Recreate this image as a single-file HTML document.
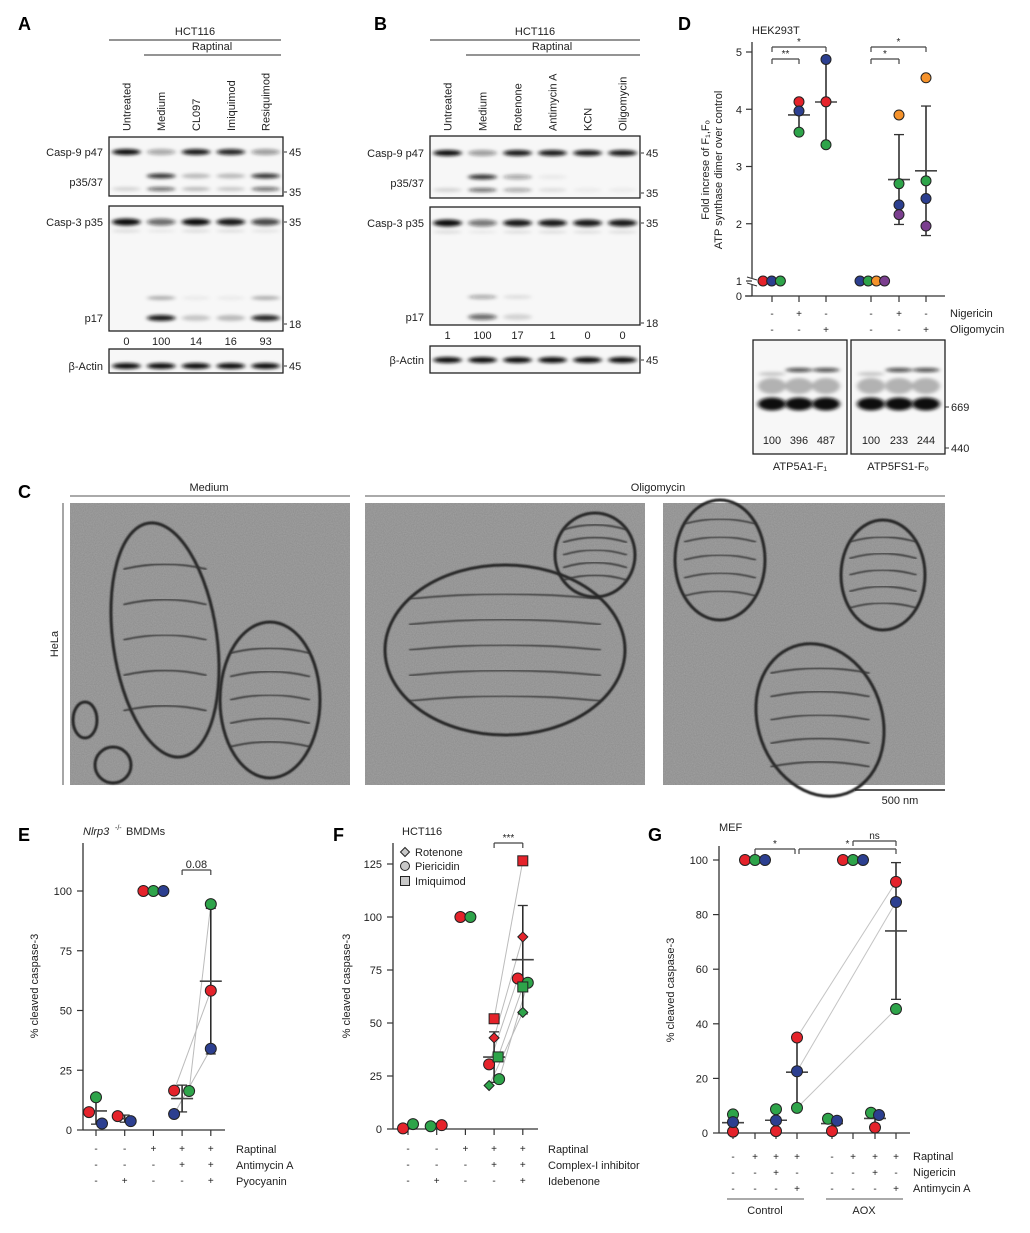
<!DOCTYPE html>
<html><head><meta charset="utf-8"><title>Figure</title>
<style>
html,body{margin:0;padding:0;background:#fff;}
svg{display:block;font-family:"Liberation Sans",Arial,sans-serif;}
</style></head>
<body>
<svg id="fig" xmlns="http://www.w3.org/2000/svg" width="1030" height="1233" viewBox="0 0 1030 1233">
<defs>
<filter id="blur" x="-20%" y="-100%" width="140%" height="300%"><feGaussianBlur stdDeviation="2.2 1.6"/></filter>
<filter id="noise" x="0" y="0" width="100%" height="100%">
<feTurbulence type="fractalNoise" baseFrequency="0.9" numOctaves="2" seed="3"/>
<feColorMatrix type="matrix" values="0 0 0 0 0.35  0 0 0 0 0.35  0 0 0 0 0.35  0 0 0 -1.4 1.2"/>
</filter>
<filter id="soft"><feGaussianBlur stdDeviation="0.8"/></filter>
</defs>
</svg>
<script>
// ---------------- DATA ----------------
const aLanes=["Untreated","Medium","CL097","Imiquimod","Resiquimod"];
const aCasp9=[1.0,0.35,0.95,0.9,0.4];
const aP37=[0,0.85,0.25,0.25,0.85];
const aP35=[0.15,0.6,0.25,0.2,0.6];
const aCasp3=[1.0,0.6,1.0,0.95,0.75];
const aP17up=[0,0.3,0.05,0.05,0.3];
const aP17=[0,0.95,0.2,0.25,0.9];
const aQuant=["0","100","14","16","93"];
const aActin=[1,1,1,1,1];
const bLanes=["Untreated","Medium","Rotenone","Antimycin A","KCN","Oligomycin"];
const bCasp9=[1.0,0.4,0.95,0.95,0.95,0.95];
const bP37=[0,0.85,0.35,0.05,0,0];
const bP35=[0.15,0.6,0.35,0.1,0.05,0.05];
const bCasp3=[1.0,0.55,0.95,0.95,0.95,0.95];
const bP17up=[0,0.35,0.1,0,0,0];
const bP17=[0,0.6,0.15,0,0,0];
const bQuant=["1","100","17","1","0","0"];
const bActin=[1,1,1,1,1,1];
const dTicks=[0,1,2,3,4,5];
const dNigericin=["-","+","-","-","+","-"];
const dOligomycin=["-","-","+","-","-","+"];
const dRed=[1,4.13,4.13,null,null,null];
const dBlue=[1,3.97,4.87,1,2.33,2.44];
const dGreen=[1,3.6,3.38,1,2.7,2.75];
const dOrange=[null,null,null,1,3.9,4.55];
const dPurple=[null,null,null,1,2.16,1.96];
const dBlotQuant=["100","396","487","100","233","244"];
const eTicks=[0,25,50,75,100];
const eRaptinal=["-","-","+","+","+"];
const eAntimycin=["-","-","-","+","+"];
const ePyocyanin=["-","+","-","-","+"];
const eRed=[7.5,5.8,100,16.5,58.3];
const eGreen=[13.7,null,100,16.3,94.5];
const eBlue=[2.7,3.7,100,6.7,34];
const fTicks=[0,25,50,75,100,125];
const fRaptinal=["-","-","+","+","+"];
const fComplexI=["-","-","-","+","+"];
const fIdebenone=["-","+","-","-","+"];
const fRedCircle=[0.3,1.8,100,30.5,71];
const fGreenCircle=[2.3,1.3,100,23.5,69];
const fRedSquare=[null,null,null,52,126.5];
const fGreenSquare=[null,null,null,34,67];
const fRedDiamond=[null,null,null,43,90.6];
const fGreenDiamond=[null,null,null,20.5,55];
const gTicks=[0,20,40,60,80,100];
const gRaptinal=["-","+","+","+","-","+","+","+"];
const gNigericin=["-","-","+","-","-","-","+","-"];
const gAntimycin=["-","-","-","+","-","-","-","+"];
const gRed=[0.5,100,0.7,35,0.7,100,2,92];
const gGreen=[6.8,100,8.7,9.2,5.2,100,7.4,45.4];
const gBlue=[4,100,4.6,22.6,4.5,100,6.6,84.6];

// ---------------- HELPERS ----------------
const NS="http://www.w3.org/2000/svg";
const svg=document.getElementById('fig');
function add(p,tag,at){const e=document.createElementNS(NS,tag);for(const k in at)e.setAttribute(k,at[k]);p.appendChild(e);return e;}
function grp(name){const g=add(svg,'g',{});


return g;}
function txt(p,x,y,s,opt){opt=opt||{};const t=add(p,'text',{x:x,y:y,'font-size':opt.size||11,'text-anchor':opt.anchor||'start',fill:opt.fill||'#222'});
if(opt.weight)t.setAttribute('font-weight',opt.weight);
if(opt.italic)t.setAttribute('font-style','italic');
if(opt.rot!==undefined)t.setAttribute('transform','rotate('+opt.rot+' '+x+' '+y+')');
t.textContent=s;


return t;}
function line(p,x1,y1,x2,y2,c,w,name){const l=add(p,'line',{x1:x1,y1:y1,x2:x2,y2:y2,stroke:c||'#333','stroke-width':w||1.2});


return l;}
const COL={red:'#e5232b',green:'#2ea44a',blue:'#2c3f90',orange:'#f5922b',purple:'#7b3f8f'};
function marker(p,shape,x,y,c,r,name){r=r||5.5;let m;
if(shape==='circle')m=add(p,'circle',{cx:x,cy:y,r:r});
else if(shape==='square')m=add(p,'rect',{x:x-r,y:y-r,width:2*r,height:2*r});
else m=add(p,'polygon',{points:(x)+','+(y-r)+' '+(x+r)+','+y+' '+x+','+(y+r)+' '+(x-r)+','+y});
m.setAttribute('fill',c);m.setAttribute('stroke','#222');m.setAttribute('stroke-width','1');


return m;}
function stats(vals){const v=vals.filter(a=>a!==null&&a!==undefined);const m=v.reduce((a,b)=>a+b,0)/v.length;const sd=Math.sqrt(v.reduce((a,b)=>a+(b-m)*(b-m),0)/(v.length-1));return {m:m,sd:sd};}
function errbar(p,x,y,mean,sd,name){const ym=y(mean),yl=y(mean-sd),yh=y(mean+sd);
line(p,x,yl,x,yh,'#222',1.5,name+'-whisker');
line(p,x-5,yl,x+5,yl,'#333',1.3,name+'-cap-low');
line(p,x-5,yh,x+5,yh,'#333',1.3,name+'-cap-high');
line(p,x-11,ym,x+11,ym,'#444',1.6,name+'-mean');}
function bracket(p,x1,x2,y,label,name){const g=add(p,'g',{});


line(g,x1,y,x2,y,'#444',1.2,'bracket-bar');line(g,x1,y,x1,y+5,'#444',1.2,'bracket-tick');line(g,x2,y,x2,y+5,'#444',1.2,'bracket-tick');
txt(g,(x1+x2)/2,y-2,label,{size:label.length>2&&label[0]!=='*'?11:10,anchor:'middle',name:'significance-label'});}
function panelLetter(l,x,y){txt(svg,x,y,l,{size:18,weight:'bold',fill:'#000',name:'panel-letter-'+l.toLowerCase()});}

// ---------------- BLOTS ----------------
function band(p,x,y,w,h,int,name){if(int<=0)return;const e=add(p,'ellipse',{cx:x,cy:y,rx:w/2,ry:h/2,fill:'#111','fill-opacity':Math.min(1,int),filter:'url(#blur)'});

}
function blotBox(p,x,y,w,h,name){const r=add(p,'rect',{x:x,y:y,width:w,height:h,fill:'#f7f7f7',stroke:'#222','stroke-width':1.3});

}
function drawWestern(id,x0,x1,lanes,laneX,d,quant,actin,boxes,y){
 const g=grp('western-blot-'+id);
 const lw=(x1-x0)/lanes.length;
 const lx=i=>x0+lw*(i+0.5);
 lanes.forEach((l,i)=>txt(g,lx(i)+4,y.laneBottom,l,{rot:-90,name:'lane-label'}));
 blotBox(g,x0,boxes[0][0],x1-x0,boxes[0][1]-boxes[0][0],'casp9-blot');
 blotBox(g,x0,boxes[1][0],x1-x0,boxes[1][1]-boxes[1][0],'casp3-blot');
 blotBox(g,x0,boxes[2][0],x1-x0,boxes[2][1]-boxes[2][0],'actin-blot');
 lanes.forEach((l,i)=>{const bw=lw*0.82;
  band(g,lx(i),y.c9,bw,6,d.c9[i],'casp9-p47-band');
  band(g,lx(i),y.p37,bw,5,d.p37[i],'p37-band');
  band(g,lx(i),y.p35,bw,4,d.p35[i],'p35-band');
  band(g,lx(i),y.c3,bw,7,d.c3[i],'casp3-p35-band');
  band(g,lx(i),y.c3+9,bw,3,d.c3[i]*0.12,'faint-band');
  band(g,lx(i),y.p17u,bw,4,d.p17u[i],'p17-upper-band');
  band(g,lx(i),y.p17,bw,6,d.p17[i],'p17-band');
  band(g,lx(i),y.act,bw,6,actin[i],'actin-band');
  txt(g,lx(i),y.q,quant[i],{anchor:'middle',size:11,name:'quantification-value'});
 });
 const lab=[["Casp-9 p47",y.c9],["p35/37",y.p37+6],["Casp-3 p35",y.c3],["p17",y.p17],["β-Actin",y.act]];
 lab.forEach(a=>txt(g,x0-6,a[1]+4,a[0],{anchor:'end',name:'protein-label'}));
 const mw=[["45",y.c9],["35",y.p35+3],["35",y.c3],["18",y.p17+6],["45",y.act]];
 mw.forEach(a=>{line(g,x1+1,a[1],x1+4,a[1],'#333',1,'mw-tick');txt(g,x1+6,a[1]+4,a[0],{name:'mw-marker'});});
}
panelLetter('A',18,30);
drawWestern('a',109,283,aLanes,null,{c9:aCasp9,p37:aP37,p35:aP35,c3:aCasp3,p17u:aP17up,p17:aP17},aQuant,aActin,
 [[137,196],[206,331],[349,373]],{laneBottom:131,c9:152,p37:176,p35:189,c3:222,p17u:298,p17:318,q:345,act:366});
(function(){const g=grp('panel-a-header');txt(g,195,35,'HCT116',{anchor:'middle',name:'cell-line-label'});line(g,109,40,281,40,'#555',1.2,'header-line');
txt(g,212,50,'Raptinal',{anchor:'middle',name:'treatment-label'});line(g,144,55,281,55,'#555',1.2,'header-line');})();
panelLetter('B',374,30);
drawWestern('b',430,640,bLanes,null,{c9:bCasp9,p37:bP37,p35:bP35,c3:bCasp3,p17u:bP17up,p17:bP17},bQuant,bActin,
 [[136,198],[207,325],[346,373]],{laneBottom:131,c9:153,p37:177,p35:190,c3:223,p17u:297,p17:317,q:339,act:360});
(function(){const g=grp('panel-b-header');txt(g,535,35,'HCT116',{anchor:'middle',name:'cell-line-label'});line(g,430,40,640,40,'#555',1.2,'header-line');
txt(g,552,50,'Raptinal',{anchor:'middle',name:'treatment-label'});line(g,466,55,640,55,'#555',1.2,'header-line');})();

// ---------------- PANEL D ----------------
panelLetter('D',678,30);
(function(){const g=grp('panel-d-chart');
 const xs=[772,799,826,871,899,926];
 const yD=v=>v>=1?281-(v-1)*57.25:296-v*15;
 txt(g,752,34,'HEK293T',{size:11,name:'cell-line-label'});
 line(g,752,42,752,278,'#333',1.3,'y-axis');line(g,752,285,752,296,'#333',1.3,'y-axis-lower');
 line(g,747,277,757,280,'#333',1,'axis-break');line(g,747,283,757,286,'#333',1,'axis-break');
 line(g,745,296,945,296,'#333',1.3,'x-axis');
 dTicks.forEach(t=>{line(g,746,yD(t),752,yD(t),'#333',1.2,'y-tick');txt(g,742,yD(t)+4,String(t),{anchor:'end',size:11,name:'y-tick-label'});});
 txt(g,709,170,'Fold increse of F\u2081,F\u2092',{rot:-90,anchor:'middle',size:11,name:'y-axis-title'});
 txt(g,722,170,'ATP synthase dimer over control',{rot:-90,anchor:'middle',size:11,name:'y-axis-title'});
 xs.forEach((x,i)=>{line(g,x,296,x,302,'#333',1.2,'x-tick');
  txt(g,x,317,dNigericin[i],{anchor:'middle',size:10,name:'nigericin-sign'});
  txt(g,x,333,dOligomycin[i],{anchor:'middle',size:10,name:'oligomycin-sign'});});
 txt(g,950,317,'Nigericin',{size:11,name:'row-label-nigericin'});txt(g,950,333,'Oligomycin',{size:11,name:'row-label-oligomycin'});
 const series=[['red',dRed],['blue',dBlue],['green',dGreen],['orange',dOrange],['purple',dPurple]];
 [1,2,4,5].forEach(i=>{const s=stats(series.map(a=>a[1][i]));errbar(g,xs[i],yD,s.m,s.sd,'d-errorbar');});
 const ctrl1=['red','blue','green'],ctrl2=['blue','green','orange','purple'];
 ctrl1.forEach((c,k)=>marker(g,'circle',763+k*8.7,yD(1),COL[c],5,'control-point'));
 ctrl2.forEach((c,k)=>marker(g,'circle',860+k*8.2,yD(1),COL[c],5,'control-point'));
 series.forEach(s=>s[1].forEach((v,i)=>{if(v!==null&&i!==0&&i!==3)marker(g,'circle',xs[i],yD(v),COL[s[0]],5,s[0]+'-point');}));
 bracket(g,772,826,47,'*','sig-bracket');bracket(g,772,799,59,'**','sig-bracket');
 bracket(g,871,926,47,'*','sig-bracket');bracket(g,871,899,59,'*','sig-bracket');
 const bl=grp('panel-d-blot');
 [[753,847],[851,945]].forEach((b,k)=>{blotBox(bl,b[0],340,b[1]-b[0],114,'native-gel-'+(k+1));});
 xs.forEach((x,i)=>{band(bl,x,404,28,13,1,'monomer-band');band(bl,x,386,28,16,0.28,'smear');
  band(bl,x,i%3===0?374:370,27,4,i%3===0?0.2:0.75,'dimer-band');
  txt(bl,x,444,dBlotQuant[i],{anchor:'middle',size:11,name:'blot-quantification'});});
 line(bl,945,407,949,407,'#333',1,'mw-tick');txt(bl,951,411,'669',{size:11,name:'mw-marker'});
 line(bl,945,448,949,448,'#333',1,'mw-tick');txt(bl,951,452,'440',{size:11,name:'mw-marker'});
 txt(bl,800,470,'ATP5A1-F\u2081',{anchor:'middle',size:11,name:'blot-label'});
 txt(bl,898,470,'ATP5FS1-F\u2092',{anchor:'middle',size:11,name:'blot-label'});
})();

// ---------------- PANEL C ----------------
panelLetter('C',18,498);
(function(){const g=grp('panel-c-em');
 txt(g,209,491,'Medium',{anchor:'middle',size:11,name:'condition-label'});line(g,70,496,350,496,'#777',1.3,'header-line');
 txt(g,658,491,'Oligomycin',{anchor:'middle',size:11,name:'condition-label'});line(g,365,496,945,496,'#777',1.3,'header-line');
 txt(g,58,644,'HeLa',{rot:-90,anchor:'middle',size:11,name:'cell-line-label'});line(g,63,503,63,785,'#777',1.3,'side-line');
 const imgs=[[70,350],[365,645],[663,945]];
 imgs.forEach((b,k)=>{const r=add(g,'rect',{x:b[0],y:503,width:b[1]-b[0],height:282,fill:'#8e8e8e'});
 
 
 const n=add(g,'rect',{x:b[0],y:503,width:b[1]-b[0],height:282,filter:'url(#noise)'});
 
 });
 const mitos=[[165,640,52,118,-8],[270,700,50,78,0],[505,650,120,85,0],[595,555,40,42,0],[720,560,45,60,0],[883,575,42,55,0],[820,720,62,78,-20],[85,720,12,18,0],[113,765,18,18,0]];
 mitos.forEach(m=>{const e=add(g,'ellipse',{cx:m[0],cy:m[1],rx:m[2],ry:m[3],fill:'none',stroke:'#262626','stroke-width':3,transform:'rotate('+m[4]+' '+m[0]+' '+m[1]+')',filter:'url(#soft)'});
 
 
 if(m[2]>30){for(let j=-2;j<=2;j++){const l=add(g,'path',{d:'M'+(m[0]-m[2]*0.8)+' '+(m[1]+j*m[3]*0.3)+' Q'+m[0]+' '+(m[1]+j*m[3]*0.3-10)+' '+(m[0]+m[2]*0.8)+' '+(m[1]+j*m[3]*0.3),fill:'none',stroke:'#333','stroke-width':1.6,filter:'url(#soft)'});
 
 }}});
 line(g,855,790,945,790,'#222',1.5,'scale-bar');txt(g,900,804,'500 nm',{anchor:'middle',size:11,name:'scale-bar-label'});
})();

// ---------------- PANEL E ----------------
panelLetter('E',18,841);
(function(){const g=grp('panel-e-chart');
 const xE=i=>96+i*28.7, yE=v=>1130-v*2.39;
 txt(g,83,835,'Nlrp3',{italic:true,size:11,name:'title-gene'});txt(g,115,830,'-/-',{size:7,name:'title-superscript'});txt(g,126,835,'BMDMs',{size:11,name:'chart-title'});
 line(g,83,843,83,1130,'#333',1.3,'y-axis');line(g,83,1130,225,1130,'#333',1.3,'x-axis');
 eTicks.forEach(t=>{line(g,77,yE(t),83,yE(t),'#333',1.2,'y-tick');txt(g,72,yE(t)+4,String(t),{anchor:'end',size:11,name:'y-tick-label'});});
 txt(g,38,986,'% cleaved caspase-3',{rot:-90,anchor:'middle',size:11,name:'y-axis-title'});
 eRaptinal.forEach((s,i)=>{line(g,xE(i),1130,xE(i),1136,'#333',1.2,'x-tick');
  txt(g,xE(i),1152,s,{anchor:'middle',size:10,name:'raptinal-sign'});txt(g,xE(i),1168,eAntimycin[i],{anchor:'middle',size:10,name:'antimycin-sign'});txt(g,xE(i),1184,ePyocyanin[i],{anchor:'middle',size:10,name:'pyocyanin-sign'});});
 txt(g,236,1153,'Raptinal',{size:11,name:'row-label-raptinal'});txt(g,236,1169,'Antimycin A',{size:11,name:'row-label-antimycin'});txt(g,236,1185,'Pyocyanin',{size:11,name:'row-label-pyocyanin'});
 const S=[['red',eRed,[-7,-7,-10,-8,0]],['green',eGreen,[0,0,0,7,0]],['blue',eBlue,[6,6,10,-8,0]]];
 S.forEach(s=>line(g,xE(3)+s[2][3],yE(s[1][3]),xE(4)+s[2][4],yE(s[1][4]),'#bbb',1,'paired-line'));
 [0,1,3,4].forEach(i=>{const s=stats(S.map(a=>a[1][i]));errbar(g,xE(i),yE,s.m,s.sd,'e-errorbar');});
 S.forEach(s=>s[1].forEach((v,i)=>{if(v!==null)marker(g,'circle',xE(i)+s[2][i],yE(v),COL[s[0]],5.5,s[0]+'-point');}));
 bracket(g,xE(3),xE(4),870,'0.08','sig-bracket');
})();

// ---------------- PANEL F ----------------
panelLetter('F',333,841);
(function(){const g=grp('panel-f-chart');
 const xF=i=>408+i*28.7, yF=v=>1129-v*2.12;
 txt(g,402,835,'HCT116',{size:11,name:'chart-title'});
 line(g,393,843,393,1129,'#333',1.3,'y-axis');line(g,393,1129,538,1129,'#333',1.3,'x-axis');
 fTicks.forEach(t=>{line(g,387,yF(t),393,yF(t),'#333',1.2,'y-tick');txt(g,382,yF(t)+4,String(t),{anchor:'end',size:11,name:'y-tick-label'});});
 txt(g,350,986,'% cleaved caspase-3',{rot:-90,anchor:'middle',size:11,name:'y-axis-title'});
 fRaptinal.forEach((s,i)=>{line(g,xF(i),1129,xF(i),1135,'#333',1.2,'x-tick');
  txt(g,xF(i),1152,s,{anchor:'middle',size:10,name:'raptinal-sign'});txt(g,xF(i),1168,fComplexI[i],{anchor:'middle',size:10,name:'complex-i-sign'});txt(g,xF(i),1184,fIdebenone[i],{anchor:'middle',size:10,name:'idebenone-sign'});});
 txt(g,548,1153,'Raptinal',{size:11,name:'row-label-raptinal'});txt(g,548,1169,'Complex-I inhibitor',{size:11,name:'row-label-complex-i'});txt(g,548,1185,'Idebenone',{size:11,name:'row-label-idebenone'});
 const S=[['circle','red',fRedCircle,[-5,5,-5,-5,-5]],['circle','green',fGreenCircle,[5,-6,5,5,5]],['square','red',fRedSquare,[0,0,0,0,0]],['square','green',fGreenSquare,[0,0,0,4,0]],['diamond','red',fRedDiamond,[0,0,0,0,0]],['diamond','green',fGreenDiamond,[0,0,0,-5,0]]];
 S.forEach(s=>line(g,xF(3)+s[3][3],yF(s[2][3]),xF(4)+s[3][4],yF(s[2][4]),'#bbb',1,'paired-line'));
 [3,4].forEach(i=>{const s=stats(S.map(a=>a[2][i]));errbar(g,xF(i),yF,s.m,s.sd,'f-errorbar');});
 S.forEach(s=>s[2].forEach((v,i)=>{if(v!==null)marker(g,s[0],xF(i)+s[3][i],yF(v),COL[s[1]],s[0]==='circle'?5.5:5,s[1]+'-'+s[0]+'-point');}));
 bracket(g,xF(3),xF(4),843,'***','sig-bracket');
 const lg=grp('panel-f-legend');
 [['diamond','Rotenone',852],['circle','Piericidin',866],['square','Imiquimod',881]].forEach(l=>{marker(lg,l[0],405,l[2],'#c8c8c8',4.5,'legend-marker');txt(lg,415,l[2]+4,l[1],{size:11,name:'legend-entry'});});
})();

// ---------------- PANEL G ----------------
panelLetter('G',648,841);
(function(){const g=grp('panel-g-chart');
 const xs=[733,755,776,797,832,853,875,896];
 const xG=i=>xs[i], yG=v=>1133-v*2.73;
 txt(g,719,831,'MEF',{size:11,name:'chart-title'});
 line(g,719,846,719,1133,'#333',1.3,'y-axis');line(g,719,1133,910,1133,'#333',1.3,'x-axis');
 gTicks.forEach(t=>{line(g,713,yG(t),719,yG(t),'#333',1.2,'y-tick');txt(g,708,yG(t)+4,String(t),{anchor:'end',size:11,name:'y-tick-label'});});
 txt(g,674,990,'% cleaved caspase-3',{rot:-90,anchor:'middle',size:11,name:'y-axis-title'});
 gRaptinal.forEach((s,i)=>{line(g,xG(i),1133,xG(i),1139,'#333',1.2,'x-tick');
  txt(g,xG(i),1160,s,{anchor:'middle',size:10,name:'raptinal-sign'});txt(g,xG(i),1176,gNigericin[i],{anchor:'middle',size:10,name:'nigericin-sign'});txt(g,xG(i),1192,gAntimycin[i],{anchor:'middle',size:10,name:'antimycin-sign'});});
 txt(g,913,1160,'Raptinal',{size:11,name:'row-label-raptinal'});txt(g,913,1176,'Nigericin',{size:11,name:'row-label-nigericin'});txt(g,913,1192,'Antimycin A',{size:11,name:'row-label-antimycin'});
 line(g,727,1199,804,1199,'#777',1.3,'group-line-control');txt(g,765,1214,'Control',{anchor:'middle',size:11,name:'group-label-control'});
 line(g,826,1199,903,1199,'#777',1.3,'group-line-aox');txt(g,864,1214,'AOX',{anchor:'middle',size:11,name:'group-label-aox'});
 const S=[['red',gRed,[0,-10,0,0,0,-10,0,0]],['green',gGreen,[0,0,0,0,-4,0,-4,0]],['blue',gBlue,[0,10,0,0,5,10,4,0]]];
 S.forEach(s=>line(g,xG(3),yG(s[1][3]),xG(7),yG(s[1][7]),'#c4c4c4',1,'paired-line'));
 [0,2,3,4,6,7].forEach(i=>{const s=stats(S.map(a=>a[1][i]));errbar(g,xG(i),yG,s.m,s.sd,'g-errorbar');});
 S.forEach(s=>s[1].forEach((v,i)=>{marker(g,'circle',xG(i)+s[2][i],yG(v),COL[s[0]],5.5,s[0]+'-point');}));
 bracket(g,xG(1),xG(3)-2,849,'*','sig-bracket');bracket(g,xG(3)+2,xG(7),849,'*','sig-bracket');bracket(g,xG(5),xG(7),841,'ns','sig-bracket');
})();
</script>
</body></html>
